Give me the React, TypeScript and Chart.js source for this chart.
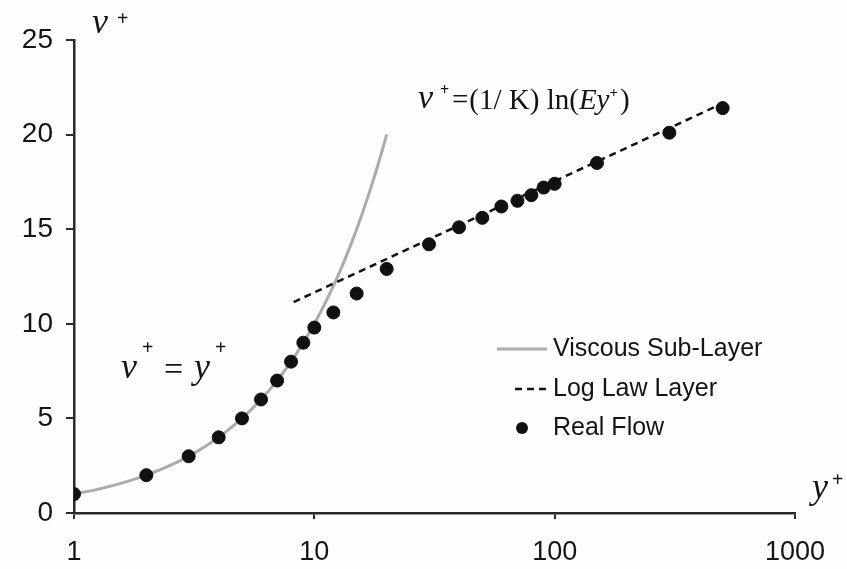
import React, { useEffect, useRef } from "react";
import { Chart, registerables } from "chart.js";

Chart.register(...registerables);

// Real flow measurements (y+, v+)
const flowY = [1, 2, 3, 4, 5, 6, 7, 8, 9, 10, 12, 15, 20, 30, 40, 50, 60, 70, 80, 90, 100, 150, 300, 500];
const flowV = [1, 2, 3, 4, 5, 6, 7, 8, 9, 9.8, 10.6, 11.6, 12.9, 14.2, 15.1, 15.6, 16.2, 16.5, 16.8, 17.2, 17.4, 18.5, 20.1, 21.4];

// Viscous sub-layer: v+ = y+
const viscousY = [1, 1.25, 1.5, 1.75, 2, 2.5, 3, 3.5, 4, 5, 6, 7, 8, 9, 10, 11, 12, 13, 14, 15, 16, 17, 18, 19, 20];
const viscousV = [1, 1.25, 1.5, 1.75, 2, 2.5, 3, 3.5, 4, 5, 6, 7, 8, 9, 10, 11, 12, 13, 14, 15, 16, 17, 18, 19, 20];

// Log law layer endpoints
const logY = [8.2, 530];
const logV = [11.15, 21.8];

const xTicks = [1, 10, 100, 1000];
const yTicks = [0, 5, 10, 15, 20, 25];

const legendLabels = ["Viscous Sub-Layer", "Log Law Layer", "Real Flow"];

const TEXT = "#141414";
const AXIS = "#2a2a2a";

const annotationPlugin = {
  id: "annotations",
  afterDraw(chart: any) {
    const ctx = chart.ctx as CanvasRenderingContext2D;
    ctx.save();
    ctx.fillStyle = TEXT;
    ctx.textBaseline = "alphabetic";
    ctx.textAlign = "left";

    const serifI = (s: number) => `italic ${s}px "Liberation Serif", "DejaVu Serif", serif`;
    const serif = (s: number) => `${s}px "Liberation Serif", "DejaVu Serif", serif`;
    const serifB = (s: number) => `bold ${s}px "Liberation Serif", "DejaVu Serif", serif`;

    // y-axis title  v+
    ctx.font = serifI(36);
    ctx.fillText("ν", 92, 33);
    ctx.font = serifB(20);
    ctx.fillText("+", 117, 25);

    // x-axis title  y+
    ctx.font = serifI(36);
    ctx.fillText("y", 812, 498);
    ctx.font = serifB(20);
    ctx.fillText("+", 832, 486);

    // v+ = y+
    ctx.font = serifI(36);
    ctx.fillText("ν", 121, 378);
    ctx.font = serifB(20);
    ctx.fillText("+", 142, 354);
    ctx.font = serif(34);
    ctx.fillText("=", 164, 380);
    ctx.font = serifI(36);
    ctx.fillText("y", 194, 378);
    ctx.font = serifB(20);
    ctx.fillText("+", 215, 354);

    // v+ = (1/K) ln(Ey+)
    ctx.font = serifI(34);
    ctx.fillText("ν", 418, 108);
    ctx.font = serifB(16);
    ctx.fillText("+", 440, 95);
    let x = 452;
    ctx.font = serif(29);
    ctx.fillText("=", x, 109);
    x += ctx.measureText("=").width + 1;
    const part1 = "(1/ K) ln(";
    ctx.fillText(part1, x, 109);
    x += ctx.measureText(part1).width;
    ctx.font = serifI(29);
    ctx.fillText("Ey", x, 109);
    x += ctx.measureText("Ey").width;
    ctx.font = serifB(15);
    ctx.fillText("+", x, 97);
    x += ctx.measureText("+").width + 2;
    ctx.font = serif(29);
    ctx.fillText(")", x, 109);

    // legend
    const lx0 = 497;
    const lx1 = 547;
    const tx = 553;
    const rows = [349, 389, 428];
    ctx.font = `25px "Liberation Sans", Arial, sans-serif`;
    ctx.textBaseline = "middle";

    ctx.strokeStyle = "#ababab";
    ctx.lineWidth = 3;
    ctx.setLineDash([]);
    ctx.beginPath();
    ctx.moveTo(lx0, rows[0]);
    ctx.lineTo(lx1, rows[0]);
    ctx.stroke();
    ctx.fillText(legendLabels[0], tx, rows[0]);

    ctx.strokeStyle = "#111";
    ctx.lineWidth = 2.5;
    ctx.setLineDash([7, 5]);
    ctx.beginPath();
    ctx.moveTo(lx0 + 18, rows[1]);
    ctx.lineTo(lx1, rows[1]);
    ctx.stroke();
    ctx.setLineDash([]);
    ctx.fillText(legendLabels[1], tx, rows[1]);

    ctx.fillStyle = "#111";
    ctx.beginPath();
    ctx.arc(522, rows[2], 6, 0, Math.PI * 2);
    ctx.fill();
    ctx.fillStyle = TEXT;
    ctx.fillText(legendLabels[2], tx, rows[2]);

    ctx.restore();
  },
};

const bgPlugin = {
  id: "bg",
  beforeDraw(chart: any) {
    const ctx = chart.ctx;
    ctx.save();
    ctx.fillStyle = "#fdfdfd";
    ctx.fillRect(0, 0, chart.width, chart.height);
    ctx.restore();
  },
};

export default function App() {
  const ref = useRef<HTMLCanvasElement | null>(null);

  useEffect(() => {
    if (!ref.current) return;
    const chart = new Chart(ref.current, {
      type: "scatter",
      data: {
        datasets: [
          {
            label: legendLabels[2],
            data: flowY.map((x, i) => ({ x, y: flowV[i] })),
            backgroundColor: "#111",
            borderColor: "#111",
            pointRadius: 6.5,
            pointHoverRadius: 6.5,
            showLine: false,
            order: 0,
          },
          {
            label: legendLabels[1],
            data: logY.map((x, i) => ({ x, y: logV[i] })),
            borderColor: "#111",
            borderWidth: 2.5,
            borderDash: [7, 5],
            pointRadius: 0,
            showLine: true,
            order: 1,
          },
          {
            label: legendLabels[0],
            data: viscousY.map((x, i) => ({ x, y: viscousV[i] })),
            borderColor: "#ababab",
            borderWidth: 3,
            pointRadius: 0,
            showLine: true,
            cubicInterpolationMode: "monotone",
            order: 2,
          },
        ],
      },
      options: {
        responsive: false,
        animation: false,
        devicePixelRatio: 1,
        layout: { padding: { top: 40, right: 52, left: 0, bottom: 0 } },
        plugins: {
          legend: { display: false },
          tooltip: { enabled: false },
        },
        scales: {
          x: {
            type: "logarithmic",
            min: 1,
            max: 1000,
            afterBuildTicks: (axis: any) => {
              axis.ticks = xTicks.map((v) => ({ value: v }));
            },
            afterFit: (axis: any) => {
              axis.height = 56;
            },
            ticks: {
              autoSkip: false,
              maxRotation: 0,
              color: TEXT,
              padding: 17,
              font: { family: '"Liberation Sans", Arial, sans-serif', size: 27 },
              callback: (v: any) => String(v),
            },
            grid: {
              drawOnChartArea: false,
              drawTicks: true,
              tickLength: 6,
              color: AXIS,
              lineWidth: 2,
            },
            border: { color: AXIS, width: 2.5 },
          },
          y: {
            min: 0,
            max: 25,
            afterBuildTicks: (axis: any) => {
              axis.ticks = yTicks.map((v) => ({ value: v }));
            },
            afterFit: (axis: any) => {
              axis.width = 74;
            },
            ticks: {
              color: TEXT,
              padding: 13,
              font: { family: '"Liberation Sans", Arial, sans-serif', size: 28 },
            },
            grid: {
              drawOnChartArea: false,
              drawTicks: true,
              tickLength: 8,
              color: AXIS,
              lineWidth: 2,
            },
            border: { color: AXIS, width: 2.5 },
          },
        },
      },
      plugins: [bgPlugin, annotationPlugin],
    } as any);
    return () => chart.destroy();
  }, []);

  return (
    <div style={{ position: "fixed", left: 0, top: 0, width: 847, height: 569 }}>
      <canvas ref={ref} width={847} height={569} style={{ width: 847, height: 569, display: "block" }} />
    </div>
  );
}
